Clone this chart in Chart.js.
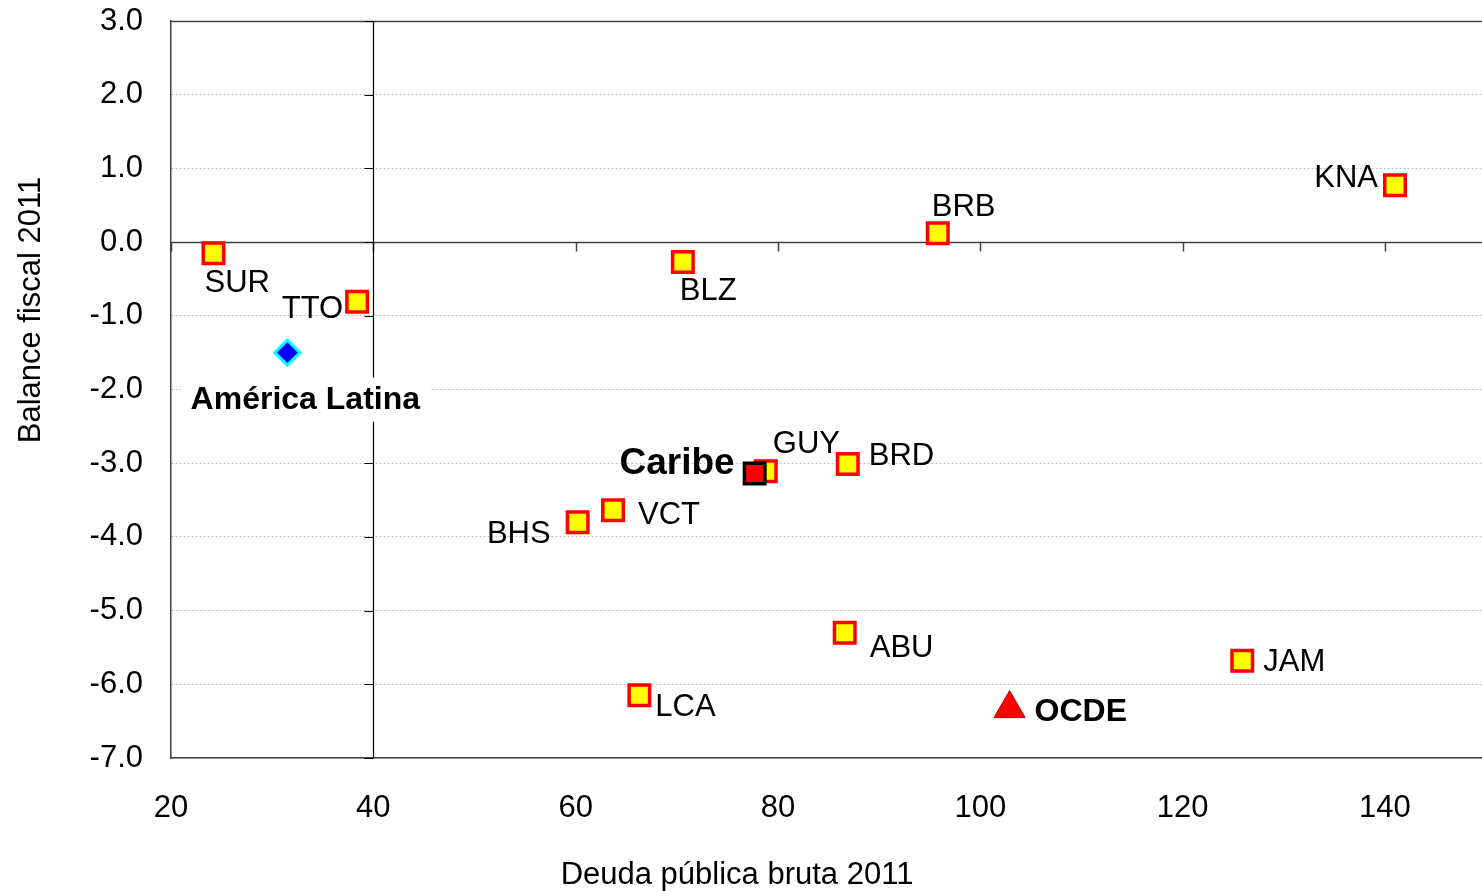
<!DOCTYPE html>
<html>
<head>
<meta charset="utf-8">
<title>Deuda y balance fiscal 2011</title>
<script src="https://cdn.jsdelivr.net/npm/chart.js@4.4.1/dist/chart.umd.min.js"></script>
<style>
  html, body { margin: 0; padding: 0; background: #fff; }
  #wrap { width: 1482px; height: 891px; }
</style>
</head>
<body>
<div id="wrap"><canvas id="deudaChart" width="1482" height="891"></canvas></div>
<script>
// Datos por país (Caribe)
const countryCodes = ['SUR', 'TTO', 'BLZ', 'BRB', 'KNA', 'GUY', 'BRD', 'VCT', 'BHS', 'ABU', 'JAM', 'LCA'];
const countryDebt = [24.2, 38.4, 70.6, 95.8, 141.0, 78.8, 86.9, 63.7, 60.2, 86.6, 125.9, 66.3];
const countryBalance = [-0.15, -0.81, -0.27, 0.12, 0.77, -3.11, -3.01, -3.64, -3.80, -5.30, -5.68, -6.15];

// Agregados regionales
const groupNames = ['Caribe', 'América Latina', 'OCDE'];
const groupDebt = [77.7, 31.5, 102.9];
const groupBalance = [-3.14, -1.50, -6.33];

// Ejes
const xTicks = [20, 40, 60, 80, 100, 120, 140];
const yTicks = [3, 2, 1, 0, -1, -2, -3, -4, -5, -6, -7];

const FONT = "Arial, 'Liberation Sans', sans-serif";

// Posición de cada etiqueta respecto a su punto (px)
const labelPos = {
    'SUR': { dx: -9, dy: 30, align: 'left' },
    'TTO': { dx: -14, dy: 8, align: 'right' },
    'BLZ': { dx: -3, dy: 29, align: 'left' },
    'BRB': { dx: -6, dy: -26, align: 'left' },
    'KNA': { dx: -17, dy: -7, align: 'right' },
    'GUY': { dx: 7, dy: -27, align: 'left' },
    'BRD': { dx: 21, dy: -7, align: 'left' },
    'VCT': { dx: 25, dy: 5, align: 'left' },
    'BHS': { dx: -27, dy: 12, align: 'right' },
    'ABU': { dx: 25, dy: 16, align: 'left' },
    'JAM': { dx: 21, dy: 2, align: 'left' },
    'LCA': { dx: 16, dy: 12, align: 'left' },
    'Caribe': { dx: -20, dy: -10, align: 'right', bold: true, size: 37 },
    'América Latina': { dx: 18, dy: 48, align: 'center', bold: true, box: true, size: 32 },
    'OCDE': { dx: 25, dy: 4, align: 'left', bold: true, size: 32 }
};

function pts(xs, ys) {
    return xs.map((v, i) => ({ x: v, y: ys[i] }));
}

// sin márgenes extra para las etiquetas de los ejes
function sinPadding(scale) {
    scale.paddingTop = 0;
    scale.paddingBottom = 0;
    scale.paddingLeft = 0;
    scale.paddingRight = 0;
}

// Ejes cruzados en x=40 y y=0, con marco superior
const ejesCruzados = {
    id: 'ejesCruzados',
    beforeDatasetsDraw(chart) {
        const { ctx, chartArea: a, scales: { x, y } } = chart;
        const x0 = Math.round(x.getPixelForValue(40)) + 0.5;
        const y0 = Math.round(y.getPixelForValue(0)) + 0.5;
        ctx.save();
        ctx.beginPath();
        ctx.strokeStyle = '#404040';
        ctx.lineWidth = 1.5;
        ctx.moveTo(a.left, a.top + 0.5);
        ctx.lineTo(a.right, a.top + 0.5);
        ctx.moveTo(a.left, y0);
        ctx.lineTo(a.right, y0);
        xTicks.forEach(v => {
            const px = Math.round(x.getPixelForValue(v)) + 0.5;
            ctx.moveTo(px, y0);
            ctx.lineTo(px, y0 + 9);
        });
        ctx.stroke();
        ctx.beginPath();
        ctx.strokeStyle = '#000';
        ctx.lineWidth = 1.2;
        ctx.moveTo(x0, a.top);
        ctx.lineTo(x0, a.bottom);
        yTicks.forEach(v => {
            const py = Math.round(y.getPixelForValue(v)) + 0.5;
            ctx.moveTo(x0 - 9, py);
            ctx.lineTo(x0, py);
        });
        ctx.stroke();
        ctx.restore();
    }
};

// Etiquetas de los puntos
const etiquetas = {
    id: 'etiquetas',
    afterDatasetsDraw(chart) {
        const ctx = chart.ctx;
        ctx.save();
        ctx.textBaseline = 'middle';
        chart.data.datasets.forEach((ds, di) => {
            const meta = chart.getDatasetMeta(di);
            meta.data.forEach((el, i) => {
                const name = ds.names[i];
                const p = labelPos[name];
                if (!p) return;
                ctx.font = (p.bold ? 'bold ' : '') + (p.size || 31) + 'px ' + FONT;
                const tx = el.x + p.dx;
                const ty = el.y + p.dy;
                if (p.box) {
                    const w = ctx.measureText(name).width;
                    ctx.fillStyle = '#fff';
                    ctx.fillRect(tx - w / 2 - 10, ty - 23, w + 20, 44);
                }
                ctx.textAlign = p.align;
                ctx.fillStyle = '#000';
                ctx.fillText(name, tx, ty);
            });
        });
        ctx.restore();
    }
};

// Títulos de los ejes
const titulos = {
    id: 'titulos',
    afterDraw(chart) {
        const ctx = chart.ctx;
        ctx.save();
        ctx.fillStyle = '#000';
        ctx.font = '31px ' + FONT;
        ctx.textAlign = 'center';
        ctx.textBaseline = 'middle';
        ctx.fillText('Deuda pública bruta 2011', 737, 875);
        ctx.translate(31, 310);
        ctx.rotate(-Math.PI / 2);
        ctx.fillText('Balance fiscal 2011', 0, 0);
        ctx.restore();
    }
};

const ctx = document.getElementById('deudaChart').getContext('2d');

const myChart = new Chart(ctx, {
    type: 'scatter',
    data: {
        datasets: [
            {
                label: 'Caribe',
                names: [groupNames[0]],
                data: pts([groupDebt[0]], [groupBalance[0]]),
                pointStyle: 'rect',
                pointRadius: 14.5,
                backgroundColor: '#ff0000',
                borderColor: '#000000',
                borderWidth: 3.5,
                order: 0
            },
            {
                label: 'América Latina',
                names: [groupNames[1]],
                data: pts([groupDebt[1]], [groupBalance[1]]),
                pointStyle: 'rectRot',
                pointRadius: 12.5,
                backgroundColor: '#0000ff',
                borderColor: '#00ffff',
                borderWidth: 3,
                order: 1
            },
            {
                label: 'OCDE',
                names: [groupNames[2]],
                data: pts([groupDebt[2]], [groupBalance[2]]),
                pointStyle: 'triangle',
                pointRadius: 18,
                backgroundColor: '#ff0000',
                borderColor: '#c00000',
                borderWidth: 1,
                order: 1
            },
            {
                label: 'Países',
                names: countryCodes,
                data: pts(countryDebt, countryBalance),
                pointStyle: 'rect',
                pointRadius: 14.5,
                backgroundColor: '#ffff00',
                borderColor: '#ff0000',
                borderWidth: 3.5,
                order: 2
            }
        ]
    },
    options: {
        responsive: false,
        animation: false,
        devicePixelRatio: 1,
        layout: { autoPadding: false, padding: { top: 21, right: 0, bottom: 0, left: 0 } },
        plugins: {
            legend: { display: false },
            tooltip: { enabled: false },
            title: { display: false }
        },
        scales: {
            x: {
                type: 'linear',
                min: 20,
                max: 149.6,
                afterBuildTicks(scale) {
                    scale.ticks = xTicks.map(v => ({ value: v }));
                },
                afterFit(scale) {
                    scale.height = 133;
                    sinPadding(scale);
                },
                grid: { display: false },
                border: { color: '#404040', width: 1.5 },
                ticks: {
                    padding: 24,
                    maxRotation: 0,
                    color: '#000',
                    font: { family: FONT, size: 31 }
                }
            },
            y: {
                type: 'linear',
                min: -7,
                max: 3,
                afterBuildTicks(scale) {
                    scale.ticks = yTicks.map(v => ({ value: v }));
                },
                afterFit(scale) {
                    scale.width = 171;
                    sinPadding(scale);
                },
                grid: { color: '#c0c0c0', lineWidth: 1, drawTicks: false },
                border: { color: '#404040', width: 1.5, dash: [2, 2] },
                ticks: {
                    padding: 28,
                    color: '#000',
                    font: { family: FONT, size: 31 },
                    callback: v => v.toFixed(1)
                }
            }
        }
    },
    plugins: [ejesCruzados, etiquetas, titulos]
});
</script>
</body>
</html>
